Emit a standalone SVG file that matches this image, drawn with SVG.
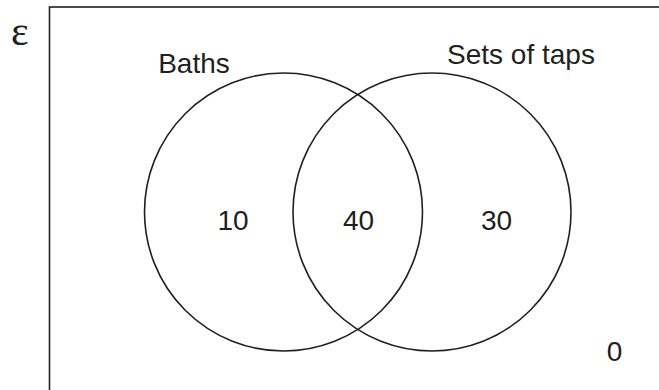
<svg xmlns="http://www.w3.org/2000/svg" width="659" height="390" viewBox="0 0 659 390">
<style>
.ln{fill:none;stroke:#231f20;stroke-width:1.6}
.t{font-family:"Liberation Sans",Arial,sans-serif;font-size:28px;fill:#231f20}
</style>
<rect width="659" height="390" fill="#ffffff"/>
<g id="universe">
<rect class="ln" x="49.5" y="7" width="640" height="420"/>
<text x="11" y="45" font-family="Liberation Serif, serif" font-size="42" fill="#231f20">ε</text>
<text class="t" x="614.5" y="361" text-anchor="middle">0</text>
</g>
<g id="baths">
<circle class="ln" cx="283.5" cy="212" r="139"/>
<text class="t" x="194" y="73" text-anchor="middle">Baths</text>
<text class="t" x="233" y="230" text-anchor="middle">10</text>
</g>
<g id="taps">
<circle class="ln" cx="432" cy="212" r="139"/>
<text class="t" x="521" y="64" text-anchor="middle">Sets of taps</text>
<text class="t" x="496.5" y="230" text-anchor="middle">30</text>
</g>
<g id="intersection">
<text class="t" x="358.5" y="230" text-anchor="middle">40</text>
</g>
<g id="connectors"></g>
</svg>
